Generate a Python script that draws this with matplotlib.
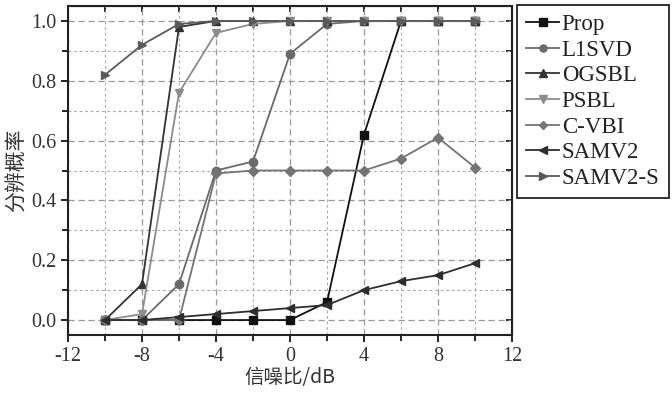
import matplotlib.pyplot as plt
from matplotlib.ticker import MultipleLocator

plt.rcParams['font.family'] = ['Liberation Serif', 'Noto Sans CJK SC']
plt.rcParams['axes.unicode_minus'] = False

snr = [-10, -8, -6, -4, -2, 0, 2, 4, 6, 8, 10]
prop = [0, 0, 0, 0, 0, 0, 0.06, 0.62, 1, 1, 1]
l1svd = [0, 0, 0.12, 0.50, 0.53, 0.89, 0.99, 1, 1, 1, 1]
ogsbl = [0, 0.12, 0.98, 1, 1, 1, 1, 1, 1, 1, 1]
psbl = [0, 0.02, 0.76, 0.96, 0.99, 1, 1, 1, 1, 1, 1]
cvbi = [0, 0, 0, 0.49, 0.50, 0.50, 0.50, 0.50, 0.54, 0.61, 0.51]
samv2 = [0, 0, 0.01, 0.02, 0.03, 0.04, 0.05, 0.10, 0.13, 0.15, 0.19]
samv2s = [0.82, 0.92, 0.99, 1, 1, 1, 1, 1, 1, 1, 1]

series = [
    ("Prop", prop, "s", "#111111"),
    ("L1SVD", l1svd, "o", "#6a6a6a"),
    ("OGSBL", ogsbl, "^", "#333333"),
    ("PSBL", psbl, "v", "#8c8c8c"),
    ("C-VBI", cvbi, "D", "#747474"),
    ("SAMV2", samv2, "<", "#2e2e2e"),
    ("SAMV2-S", samv2s, ">", "#5a5a5a"),
]

fig = plt.figure(figsize=(6.72, 3.93), dpi=100)
ax = fig.add_axes([68/672, 1-335/393, 444/672, 329/393])

for name, vals, m, c in series:
    ms = 5 if m == "D" else 6
    ax.plot(snr, vals, marker=m, color=c, lw=1.3, ms=ms, label=name)

ax.set_xlim(-12, 12)
ax.set_ylim(-0.05, 1.05)
ax.xaxis.set_major_locator(MultipleLocator(4))
ax.xaxis.set_minor_locator(MultipleLocator(2))
ax.yaxis.set_major_locator(MultipleLocator(0.2))
ax.yaxis.set_minor_locator(MultipleLocator(0.1))
ax.set_yticks(ax.get_yticks())
ax.set_yticklabels([f"{v:.1f}" for v in ax.get_yticks()])
ax.set_ylim(-0.05, 1.05)
ax.grid(which='major', ls=(0, (5, 3)), color='#999999', lw=0.9)
ax.grid(which='minor', ls=(0, (2.5, 2.5)), color='#aaaaaa', lw=0.8)
ax.set_axisbelow(True)
ax.tick_params(which='both', direction='out', labelsize=14.5, width=1.2,
               labelcolor='#333333')
ax.tick_params(which='major', length=5)
ax.tick_params(which='minor', length=4)
for s in ax.spines.values():
    s.set_linewidth(1.5)
    s.set_color('#222222')

# inward ticks on top and right
top = ax.secondary_xaxis('top')
top.xaxis.set_major_locator(MultipleLocator(2))
top.tick_params(direction='in', length=4, width=1.2, labeltop=False)
right = ax.secondary_yaxis('right')
right.yaxis.set_major_locator(MultipleLocator(0.1))
right.tick_params(direction='in', length=4, width=1.2, labelright=False)

ax.set_xlabel("信噪比/dB", fontsize=14, family=['Noto Sans CJK SC'],
              labelpad=1, color='#333333')
ax.set_ylabel("分辨概率", fontsize=15, family=['Noto Sans CJK SC'],
              labelpad=2, color='#333333')

leg = fig.legend(loc='upper left', bbox_to_anchor=(517/672, 1-5/393),
                 bbox_transform=fig.transFigure, borderaxespad=0,
                 fontsize=16.5, handlelength=1.45, handletextpad=0.1,
                 labelspacing=0.2, fancybox=False, framealpha=1,
                 edgecolor='#222222', borderpad=0.4, markerscale=0.85)
leg.get_frame().set_linewidth(1.3)
for t in leg.get_texts():
    t.set_color('#222222')

fig.savefig("out.png", dpi=100)
